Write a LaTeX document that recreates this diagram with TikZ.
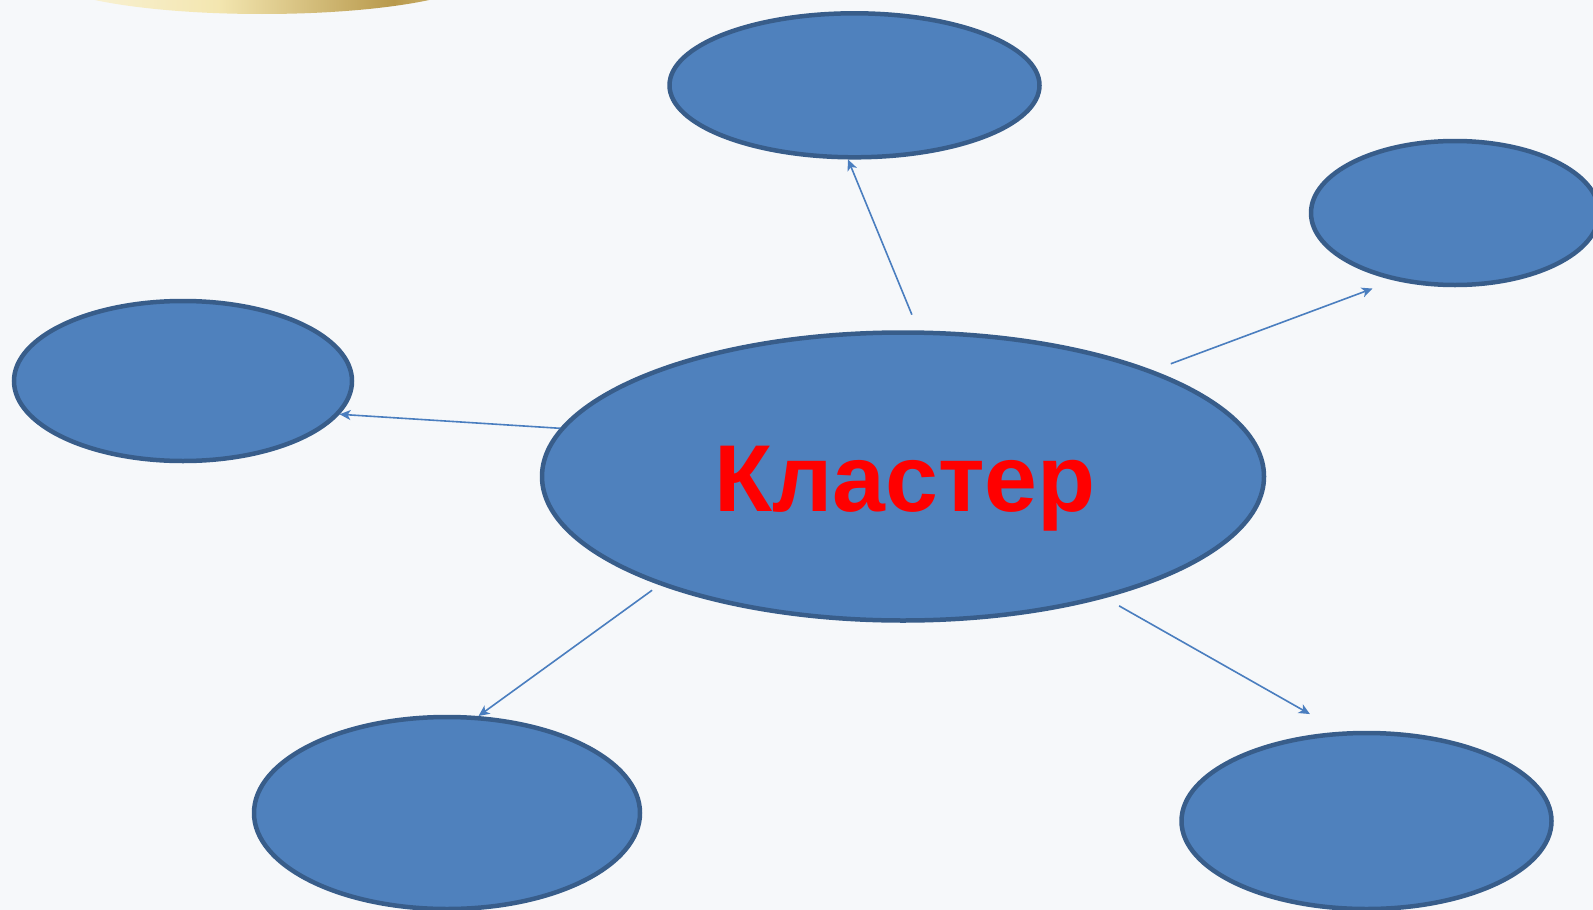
\documentclass[tikz,border=0pt]{standalone}
\usepackage{fontspec}
\setmainfont{Liberation Sans}
\usepackage{xcolor}
\usetikzlibrary{arrows.meta,positioning,shapes.geometric}
\definecolor{bgc}{HTML}{F6F8FA}
\definecolor{fillb}{HTML}{4F81BD}
\definecolor{lineb}{HTML}{385D8A}
\definecolor{arrb}{HTML}{4A7EBF}
\definecolor{goldl}{HTML}{F3E6B0}
\definecolor{goldd}{HTML}{B8994C}
\pgfdeclarehorizontalshading{swoosh}{100bp}{color(0bp)=(white); color(25bp)=(goldl!40!white);
  color(45bp)=(goldl); color(65bp)=(goldd); color(82bp)=(goldl); color(100bp)=(white)}

\begin{document}
\begin{tikzpicture}[x=1pt,y=-1pt,>={Stealth[length=11pt,width=10pt,inset=3pt]},
  v/.style={ellipse,draw=lineb,fill=fillb,line width=4.5pt,inner sep=0pt},
  e/.style={->,draw=arrb,line width=1.6pt}]
  \useasboundingbox (0,0) rectangle (1593,910);
  \fill[bgc] (0,0) rectangle (1593,910);
  \begin{scope}
    \clip (0,0) rectangle (1593,910);
    % gold swoosh at the top
    \shade[shading=swoosh] (262,-26) ellipse [x radius=220pt, y radius=40pt];
    \node[v,minimum width=722pt,minimum height=288pt] (c) at (903,476.5) {};
    \node[v,minimum width=370pt,minimum height=144pt] (n) at (854.5,85.3) {};
    \node[v,minimum width=288pt,minimum height=144pt] (ne) at (1455,213) {};
    \node[v,minimum width=338pt,minimum height=160pt] (w) at (183,381) {};
    \node[v,minimum width=386pt,minimum height=192pt] (sw) at (447,813) {};
    \node[v,minimum width=370pt,minimum height=176pt] (se) at (1366.5,821) {};
  \end{scope}
  \node[anchor=base,text=red,font=\fontsize{95}{95}\selectfont\bfseries] (kl) at (905,511) {Кластер};
  \draw[e,shorten <=17pt] (c.84.4) -- (n.-95);
  \draw[e,shorten <=19pt,shorten >=23pt] (c.23.4) -- (ne.-132.5);
  \draw[e] (c.172) -- (w.-12);
  \draw[e,shorten <=9pt] (c.-156) -- (sw.72);
  \draw[e,shorten <=16pt,shorten >=35.6pt] (c.-31) -- (se.106);
\end{tikzpicture}
\end{document}
